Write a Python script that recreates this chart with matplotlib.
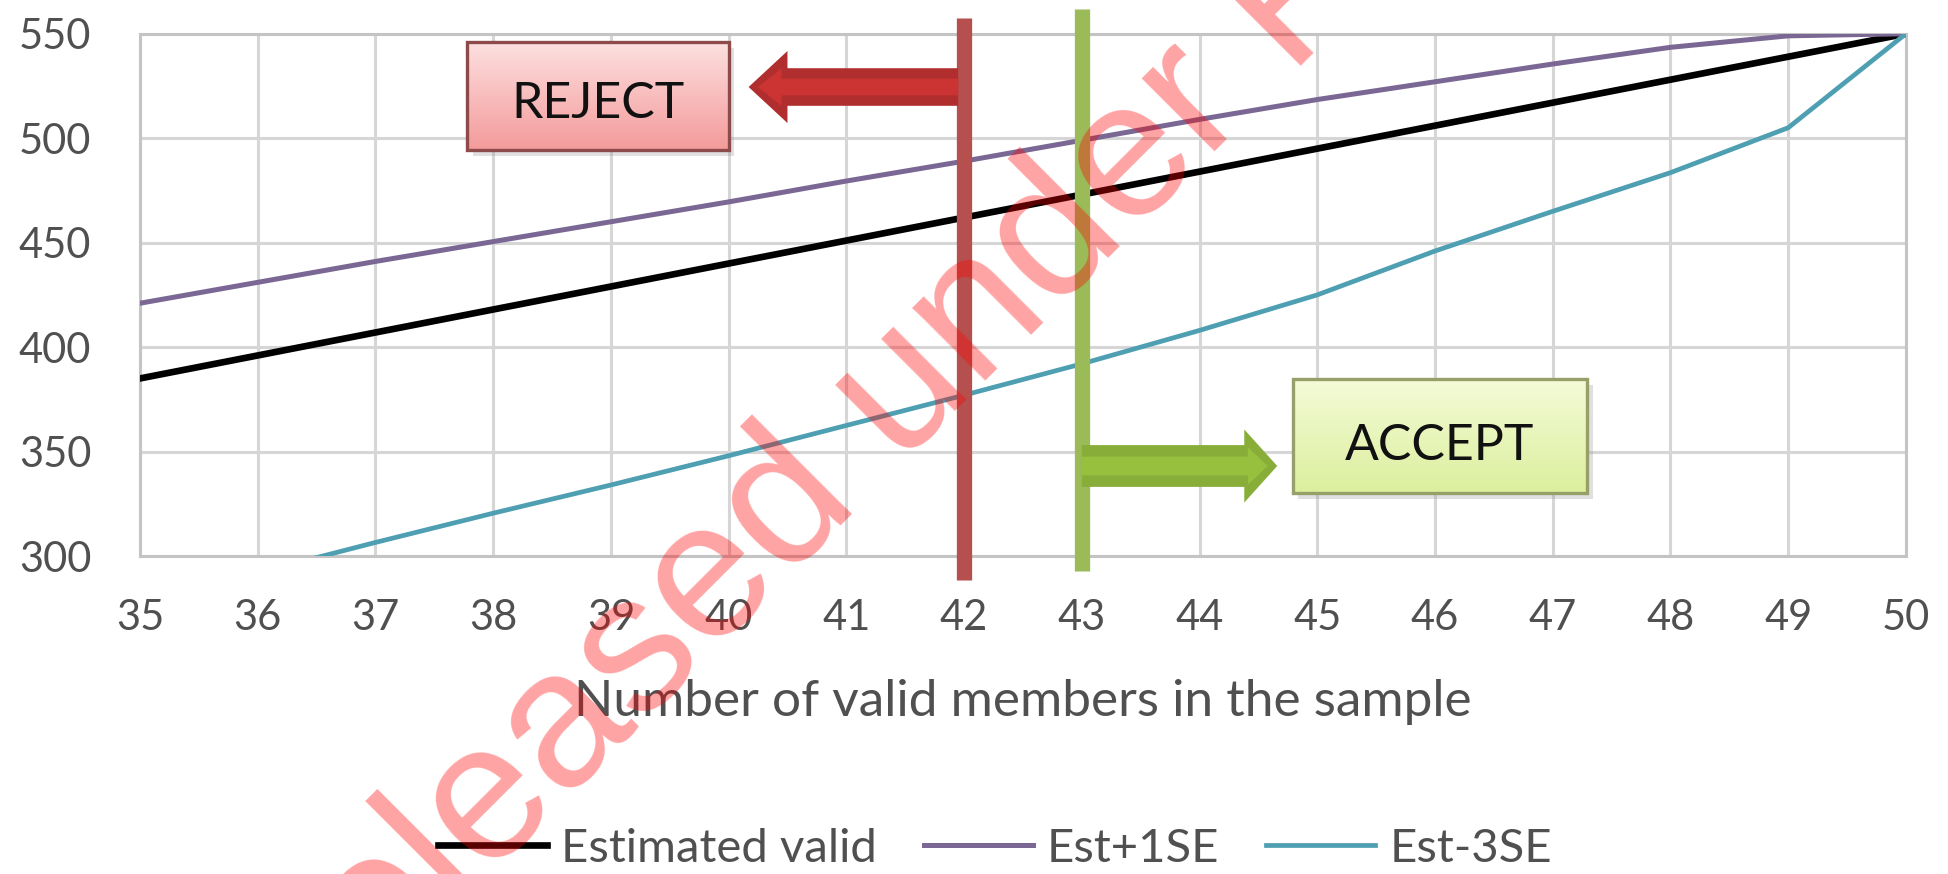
import numpy as np
import matplotlib.pyplot as plt
from matplotlib.patches import Rectangle, FancyArrow
from matplotlib.colors import LinearSegmentedColormap

# sample size on the x axis and the three estimate curves
members = [35, 36, 37, 38, 39, 40, 41, 42, 43, 44, 45, 46, 47, 48, 49, 50]
estimated_valid = [385, 396, 407, 418, 429, 440, 451, 462, 473, 484, 495, 506, 517, 528, 539, 550]
est_plus_1se = [421, 431, 441, 450.5, 460, 469.5, 479.5, 489, 499, 509, 518.5, 527, 535.5, 543.5, 549, 550]
est_minus_3se = [278, 292, 306.5, 320.5, 334, 348, 362.5, 377, 392, 408, 425, 446, 465, 483.5, 505, 550]
series_labels = ['Estimated valid', 'Est+1SE', 'Est-3SE']

y_ticks = [300, 350, 400, 450, 500, 550]
reject_at = 42
accept_at = 43

plt.rcParams['font.family'] = ['Lato', 'DejaVu Sans']

fig = plt.figure(figsize=(19.49, 8.74), dpi=100)
ax = fig.add_axes([0.0718, 0.3638, 0.9061, 0.5976])

grid_col = '#d6d6d6'
text_col = '#505050'

ax.plot(members, estimated_valid, color='black', lw=4.8, label=series_labels[0], zorder=3)
ax.plot(members, est_plus_1se, color='#7a6794', lw=3.6, label=series_labels[1], zorder=3)
ax.plot(members, est_minus_3se, color='#4e9fb2', lw=3.4, label=series_labels[2], zorder=3)

# decision lines
ax.plot([reject_at, reject_at], [288.5, 557.5], color='#b5504e', lw=11,
        solid_capstyle='butt', clip_on=False, zorder=4)
ax.plot([accept_at, accept_at], [293, 562], color='#9bbb59', lw=11,
        solid_capstyle='butt', clip_on=False, zorder=4)


def gradient_box(x0, x1, y0, y1, top, bottom, edge, label, baseline):
    grad = np.linspace(0, 1, 64)[:, None]
    cmap = LinearSegmentedColormap.from_list('box', [top, bottom])
    ax.add_patch(Rectangle((x0 + 0.05, y0 - 3), x1 - x0, y1 - y0, color='#9a9a9a',
                           alpha=0.3, lw=0, zorder=5))
    ax.imshow(grad, extent=(x0, x1, y0, y1), cmap=cmap, aspect='auto',
              origin='upper', zorder=6)
    ax.add_patch(Rectangle((x0, y0), x1 - x0, y1 - y0, fill=False, ec=edge,
                           lw=2.4, zorder=7))
    ax.text((x0 + x1) / 2, baseline, label, ha='center', va='baseline',
            fontsize=36, color='#111111', zorder=8)


gradient_box(37.78, 40.0, 494.3, 546.0, '#fde0e0', '#f49b9b', '#8c4a4a', 'REJECT', 509.6)
gradient_box(44.79, 47.29, 330.1, 384.7, '#f4fbd8', '#dcef9e', '#98a06a', 'ACCEPT', 345.9)

# arrows: darker outer body with a lighter core
ax.add_patch(FancyArrow(41.95, 524.5, 40.17 - 41.95, 0, width=18, head_width=34.5,
                        head_length=0.33, length_includes_head=True,
                        color='#b02e2e', lw=0, zorder=5))
ax.add_patch(FancyArrow(41.95, 524.5, 40.25 - 41.95, 0, width=8, head_width=18,
                        head_length=0.2, length_includes_head=True,
                        color='#cc3434', lw=0, zorder=5))
ax.add_patch(FancyArrow(43.0, 343.1, 44.66 - 43.0, 0, width=20, head_width=35,
                        head_length=0.28, length_includes_head=True,
                        color='#88ad38', lw=0, zorder=5))
ax.add_patch(FancyArrow(43.0, 343.1, 44.58 - 43.0, 0, width=9, head_width=18,
                        head_length=0.17, length_includes_head=True,
                        color='#97c03e', lw=0, zorder=5))

ax.set_xlim(35, 50)
ax.set_ylim(300, 550)
ax.set_xticks(members)
ax.set_yticks(y_ticks)
ax.grid(True, color=grid_col, lw=2.2, zorder=0)
ax.set_axisbelow(True)
for side in ax.spines.values():
    side.set_color('#c4c4c4')
    side.set_linewidth(2.2)
ax.tick_params(axis='both', length=0, labelsize=30, colors=text_col)
ax.tick_params(axis='y', pad=35)
ax.tick_params(axis='x', pad=31)

ax.set_xlabel('Number of valid members in the sample', fontsize=37, color=text_col)
ax.xaxis.label.set_va('baseline')
ax.xaxis.set_label_coords(0.5, -0.306)

fig.legend(loc='center', bbox_to_anchor=(0.5105, 0.0286), ncol=3, frameon=False,
           fontsize=34, handlelength=2.3, handletextpad=0.3, columnspacing=1.0,
           labelcolor=text_col)

fig.text(281 / 1949, 1 - 1086 / 874, 'Released under FOI', rotation=45,
         rotation_mode='anchor', ha='left', va='baseline', fontsize=140,
         family='Liberation Sans', color='red', alpha=0.36, zorder=20)

fig.savefig('out.png', dpi=100)
